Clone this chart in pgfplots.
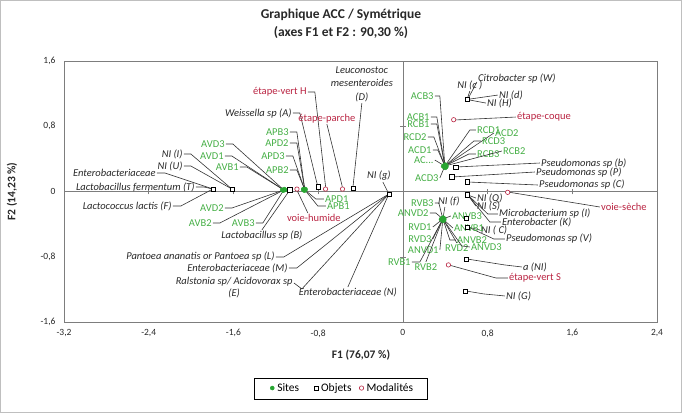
\documentclass[border=0pt]{standalone}
\usepackage{fontspec}
\setmainfont{Carlito}
\usepackage{pgfplots}
\pgfplotsset{compat=1.18}
\definecolor{sitegreen}{RGB}{40,165,50}
\definecolor{labgreen}{RGB}{70,175,70}
\definecolor{modred}{RGB}{185,35,65}
\definecolor{txtgray}{RGB}{40,40,40}
\definecolor{framegray}{RGB}{125,125,125}

% leader lines and labels are placed in picture pixels, mapped onto the axis
\pgfplotsset{
  pix/.style={x filter/.expression={(x-403)/105.9}, y filter/.expression={(191.5-y)/81.6}},
  lead/.style={pix, forget plot, no markers, color=black!80, line width=0.6pt},
}
\tikzset{
  obj/.style={font=\fontsize{10.5}{11.5}\selectfont\itshape, text=txtgray, inner sep=1pt},
  sit/.style={font=\fontsize{10.5}{11.5}\selectfont, text=labgreen, inner sep=1pt},
  mod/.style={font=\fontsize{10.5}{11.5}\selectfont, text=modred, inner sep=1pt},
}
\newcommand{\ld}[3]{\addplot[lead] coordinates {#1} node[pos=0,#2] {#3};}

\begin{document}
\begin{tikzpicture}
\useasboundingbox (0pt,0pt) rectangle (682pt,413pt);
\begin{axis}[
  at={(64pt,91pt)}, anchor=south west,
  width=593pt, height=261pt, scale only axis,
  xmin=-3.2, xmax=2.4, ymin=-1.6, ymax=1.6,
  xtick={-3.2,-2.4,-1.6,-0.8,0,0.8,1.6,2.4},
  xticklabels={{-3,2},{-2,4},{-1,6},{-0,8},0,{0,8},{1,6},{2,4}},
  ytick={-1.6,-0.8,0,0.8,1.6},
  yticklabels={{-1,6},{-0,8},0,{0,8},{1,6}},
  major tick length=0pt,
  tick label style={font=\fontsize{9.5}{10}\selectfont, text=txtgray},
  xticklabel style={yshift=-4pt},
  yticklabel style={xshift=-5pt},
  axis line style={framegray, line width=0.6pt},
  clip=false,
  legend style={at={(0.465,-0.253)}, anchor=center, legend columns=3,
    draw=none, fill=none, font=\fontsize{11.5}{13}\selectfont,
    inner xsep=2pt, inner ysep=1pt},
  legend image code/.code={\path[draw=none] (-8pt,0pt) -- (3pt,0pt); \draw[#1, line width=0.5pt] plot coordinates {(0pt,0pt)};},
]
% zero lines with their tick marks
\draw[framegray, line width=0.5pt] (axis cs:-3.2,0) -- (axis cs:2.4,0);
\draw[framegray, line width=0.5pt] (axis cs:0,-1.6) -- (axis cs:0,1.6);
\pgfplotsinvokeforeach{-2.4,-1.6,-0.8,0.8,1.6}{\draw[framegray, line width=0.5pt] (axis cs:#1,-0.035) -- (axis cs:#1,0.035);}
\pgfplotsinvokeforeach{-0.8,0.8}{\draw[framegray, line width=0.5pt] (axis cs:-0.025,#1) -- (axis cs:0.025,#1);}

% objets
\ld{(184,154)(191,154)(232,189)}{obj,anchor=east}{NI (I)}
\ld{(184,166)(191,166)(232,189)}{obj,anchor=east}{NI (U)}
\ld{(157,173)(165,173)(213,189)}{obj,anchor=east}{Enterobacteriaceae}
\ld{(196,187)(204,187)(213,189)}{obj,anchor=east}{Lactobacillus fermentum (T)}
\ld{(173,206)(181,206)(213,189)}{obj,anchor=east}{Lactococcus lactis (F)}
\ld{(262,230)(290,190)}{obj,anchor=north}{Lactobacillus sp (B)}
\ld{(293,113)(300,113)(318,187)}{obj,anchor=east}{Weissella sp (A)}
\ld{(362,103)(353,188)}{obj,anchor=south,align=center}{Leuconostoc\\[2pt]mesenteroides\\[2pt](D)}
\ld{(383,182)(389,194)}{obj,anchor=south,xshift=-4pt}{NI (g)}
\ld{(276,257)(284,257)(389,194)}{obj,anchor=east}{Pantoea ananatis or Pantoea sp (L)}
\ld{(289,268)(297,268)(389,194)}{obj,anchor=east}{Enterobacteriaceae (M)}
\ld{(294,283)(302,289)(389,194)}{obj,anchor=north east,yshift=7pt,align=center}{Ralstonia sp/ Acidovorax sp\\(E)}
\ld{(348,287)(389,194)}{obj,anchor=north}{Enterobacteriaceae (N)}
\ld{(470,91)(468,97)}{obj,anchor=south}{NI (c )}
\ld{(477,82)(468,99)}{obj,anchor=west,yshift=4pt}{Citrobacter sp (W)}
\ld{(498,95)(470,99)}{obj,anchor=west}{NI (d)}
\ld{(486,103)(470,100)}{obj,anchor=west}{NI (H)}
\ld{(540,163)(456,167)}{obj,anchor=west}{Pseudomonas sp (b)}
\ld{(535,172)(452,177)}{obj,anchor=west}{Pseudomonas sp (P)}
\ld{(538,185)(468,182)}{obj,anchor=west}{Pseudomonas sp (C)}
\ld{(476,198)(468,195)}{obj,anchor=west}{NI (Q)}
\ld{(476,206)(468,195)}{obj,anchor=west}{NI (S)}
\ld{(498,214)(488,214)(468,195)}{obj,anchor=west}{Microbacterium sp (I)}
\ld{(501,222)(490,222)(468,195)}{obj,anchor=west}{Enterobacter (K)}
\ld{(480,230)(468,227)}{obj,anchor=west}{NI ( C)}
\ld{(505,239)(494,239)(468,227)}{obj,anchor=west}{Pseudomonas sp (V)}
\ld{(522,267)(505,265)(467,259)}{obj,anchor=west}{a (NI)}
\ld{(505,296)(484,294)(466,291)}{obj,anchor=west}{NI (G)}
\ld{(445,207)(443,219)}{obj,anchor=south,xshift=4pt}{NI (f)}

% sites
\ld{(226,144)(233,144)(284,190)}{sit,anchor=east}{AVD3}
\ld{(225,156)(232,156)(284,190)}{sit,anchor=east}{AVD1}
\ld{(240,167)(247,167)(284,190)}{sit,anchor=east}{AVB1}
\ld{(225,208)(232,208)(284,190)}{sit,anchor=east}{AVD2}
\ld{(213,223)(220,223)(284,190)}{sit,anchor=east}{AVB2}
\ld{(256,223)(263,223)(284,190)}{sit,anchor=east}{AVB3}
\ld{(290,132)(297,132)(305,190)}{sit,anchor=east}{APB3}
\ld{(290,143)(297,143)(305,190)}{sit,anchor=east}{APD2}
\ld{(286,156)(293,156)(305,190)}{sit,anchor=east}{APD3}
\ld{(290,170)(297,170)(305,190)}{sit,anchor=east}{APB2}
\ld{(324,199)(316,199)(305,190)}{sit,anchor=west}{APD1}
\ld{(326,206)(318,206)(305,190)}{sit,anchor=west}{APB1}
\ld{(435,96)(440,96)(445,166)}{sit,anchor=east}{ACB3}
\ld{(431,117)(437,117)(445,166)}{sit,anchor=east}{ACB1}
\ld{(431,124)(437,124)(445,166)}{sit,anchor=east}{RCB1}
\ld{(428,137)(434,137)(445,166)}{sit,anchor=east}{RCD2}
\ld{(433,150)(438,150)(445,166)}{sit,anchor=east}{ACD1}
\ld{(435,160)(445,166)}{sit,anchor=east}{AC...}
\ld{(440,178)(445,166)}{sit,anchor=east}{ACD3}
\ld{(476,130)(470,130)(445,166)}{sit,anchor=west}{RCD1}
\ld{(494,133)(445,166)}{sit,anchor=west}{ACD2}
\ld{(481,141)(474,141)(445,166)}{sit,anchor=west}{RCD3}
\ld{(476,154)(469,154)(445,166)}{sit,anchor=west}{RCB3}
\ld{(502,151)(445,166)}{sit,anchor=west}{RCB2}
\ld{(435,203)(439,203)(443,219)}{sit,anchor=east}{RVB3}
\ld{(430,213)(436,213)(443,219)}{sit,anchor=east}{ANVD2}
\ld{(433,227)(443,219)}{sit,anchor=east}{RVD1}
\ld{(433,239)(443,219)}{sit,anchor=east}{RVD3}
\ld{(440,250)(443,219)}{sit,anchor=east}{ANVD1}
\ld{(412,262)(420,262)(443,219)}{sit,anchor=east}{RVB1}
\ld{(426,262)(443,219)}{sit,anchor=north}{RVB2}
\ld{(451,216)(443,219)}{sit,anchor=west}{ANVB3}
\ld{(453,228)(443,219)}{sit,anchor=west}{ANVB1}
\ld{(456,240)(450,240)(443,219)}{sit,anchor=west}{ANVB2}
\ld{(457,243)(443,219)}{sit,anchor=north}{RVD2}
\ld{(470,247)(462,246)(443,219)}{sit,anchor=west}{ANVD3}

% modalites
\ld{(308,213)(297,190)}{mod,anchor=north,xshift=6pt}{voie-humide}
\ld{(308,92)(315,92)(326,189)}{mod,anchor=east}{étape-vert H}
\ld{(327,124)(343,189)}{mod,anchor=south}{étape-parche}
\ld{(516,117)(454,120)}{mod,anchor=west}{étape-coque}
\ld{(600,207)(508,192)}{mod,anchor=west}{voie-sèche}
\ld{(508,278)(496,278)(449,265)}{mod,anchor=west}{étape-vert S}

% points
\addplot[only marks, mark=*, mark size=2pt, color=sitegreen,
  mark options={draw=sitegreen, fill=sitegreen}] coordinates {
  (-1.14,0.02)(-1.13,0.02)(-1.12,0.03)(-1.13,0.01)(-1.12,0.02)(-1.11,0.02)
  (-0.94,0.02)(-0.93,0.02)(-0.92,0.03)(-0.93,0.01)(-0.92,0.02)(-0.94,0.03)
  (0.39,0.31)(0.40,0.32)(0.40,0.31)(0.41,0.32)(0.39,0.30)(0.40,0.30)
  (0.41,0.31)(0.39,0.32)(0.40,0.33)(0.41,0.30)(0.38,0.31)(0.40,0.29)
  (0.37,-0.34)(0.38,-0.33)(0.38,-0.34)(0.39,-0.33)(0.37,-0.33)(0.38,-0.35)
  (0.39,-0.34)(0.37,-0.35)(0.38,-0.32)(0.39,-0.35)(0.36,-0.34)(0.38,-0.36)
};
\addlegendentry{Sites\rule{7pt}{0pt}}
\addplot[only marks, mark=square*, mark size=2.2pt, color=black,
  mark options={draw=black, fill=white, line width=0.5pt}] coordinates {
  (-1.79,0.03)(-1.79,0.03)(-1.79,0.03)(-1.61,0.03)(-1.61,0.03)
  (-1.07,0.02)(-0.80,0.06)(-0.47,0.04)
  (-0.13,-0.03)(-0.13,-0.03)(-0.13,-0.03)(-0.13,-0.03)(-0.13,-0.03)
  (0.61,1.13)(0.61,1.13)(0.61,1.13)(0.61,1.13)
  (0.50,0.30)(0.46,0.18)(0.61,0.12)
  (0.61,-0.04)(0.61,-0.04)(0.61,-0.04)(0.61,-0.04)
  (0.60,-0.33)(0.61,-0.44)(0.61,-0.44)(0.60,-0.83)(0.59,-1.22)
};
\addlegendentry{Objets}
\addplot[only marks, mark=*, mark size=2.2pt, color=modred,
  mark options={draw=modred, fill=white, line width=0.6pt}] coordinates {
  (-1.00,0.03)(-0.73,0.03)(-0.57,0.03)(0.48,0.88)(0.99,-0.01)(0.43,-0.90)
};
\addlegendentry{Modalités}
\end{axis}
% legend frame
\draw[black, line width=0.9pt] (254pt,14pt) rectangle (427pt,35pt);
\node[font=\bfseries\fontsize{13.5}{15}\selectfont, text=txtgray] at (341pt,398pt) {Graphique ACC / Symétrique};
\node[font=\bfseries\fontsize{13.5}{15}\selectfont, text=txtgray] at (341pt,380pt) {(axes F1 et F2 : 90,30 \%)};
\node[rotate=90, font=\bfseries\fontsize{11.5}{13}\selectfont, text=txtgray] at (12pt,221.5pt) {F2 (14,23 \%)};
\node[font=\bfseries\fontsize{11.5}{13}\selectfont, text=txtgray] at (361pt,58pt) {F1 (76,07 \%)};
\draw[black!25, line width=1.2pt] (0.6pt,0.6pt) rectangle (681.4pt,412.4pt);
\end{tikzpicture}
\end{document}
